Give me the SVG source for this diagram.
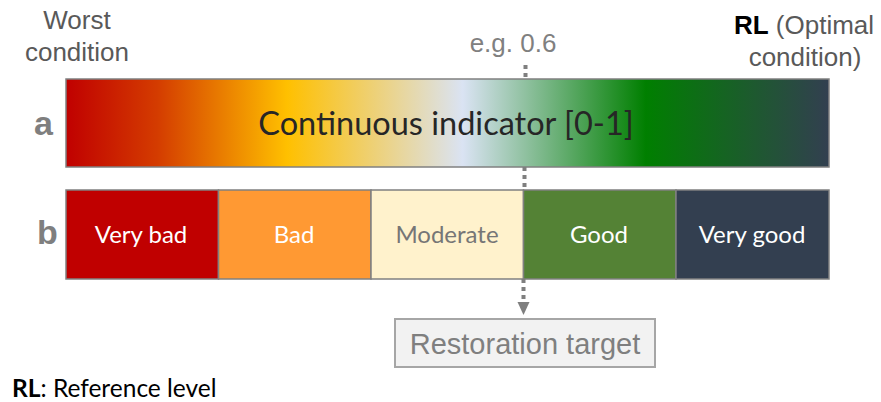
<svg xmlns="http://www.w3.org/2000/svg" width="881" height="402" viewBox="0 0 881 402">
  <style>
    .sans { font-family: "Liberation Sans", Arial, sans-serif; }
    .cal { font-family: Lato, "Open Sans", sans-serif; }
    .note { font-size: 26px; fill: #595959; }
    .row { font-size: 34px; font-weight: bold; fill: #7f7f7f; }
    .bar { stroke: #808080; stroke-width: 1.5; }
    .seg { font-size: 24px; fill: #ffffff; text-anchor: middle; }
    .dots { stroke: #7f7f7f; stroke-width: 4; stroke-dasharray: 4 4; fill: none; }
  </style>
  <defs>
    <linearGradient id="scale" x1="0" y1="0" x2="1" y2="0">
      <stop offset="0" stop-color="#c00000"/>
      <stop offset="0.12" stop-color="#d43c00"/>
      <stop offset="0.29" stop-color="#ffc000"/>
      <stop offset="0.42" stop-color="#ebd388"/>
      <stop offset="0.52" stop-color="#dae3f3"/>
      <stop offset="0.76" stop-color="#007f00"/>
      <stop offset="1" stop-color="#323f50"/>
    </linearGradient>
  </defs>

  <rect width="881" height="402" fill="#ffffff"/>

  <!-- end-point captions -->
  <g id="worst" class="sans note" text-anchor="middle">
    <text x="77" y="29">Worst</text>
    <text x="77" y="61">condition</text>
  </g>
  <g id="optimal" class="sans note" text-anchor="middle">
    <text x="804" y="34"><tspan font-weight="bold" fill="#000000">RL</tspan> (Optimal</text>
    <text x="805" y="66">condition)</text>
  </g>
  <g id="example" class="sans note">
    <text x="513" y="52" text-anchor="middle" fill="#808080">e.g. 0.6</text>
  </g>

  <!-- row a: continuous scale -->
  <g id="row-a">
    <text class="sans row" x="34" y="135">a</text>
    <rect class="bar" x="66" y="79" width="763" height="88" fill="url(#scale)"/>
    <text class="cal" x="446" y="135" font-size="32.5" fill="#262626" text-anchor="middle">Continuous indicator [0-1]</text>
  </g>

  <!-- row b: classes -->
  <g id="row-b">
    <text class="sans row" x="37" y="244">b</text>
  </g>
  <g id="very-bad">
    <rect class="bar" x="66" y="190" width="152.5" height="89" fill="#c00000"/>
    <text class="cal seg" x="141" y="243">Very bad</text>
  </g>
  <g id="bad">
    <rect class="bar" x="218.5" y="190" width="152.5" height="89" fill="#ff9933"/>
    <text class="cal seg" x="294" y="243">Bad</text>
  </g>
  <g id="moderate">
    <rect class="bar" x="371" y="190" width="152.5" height="89" fill="#fff2cc"/>
    <text class="cal seg" x="447" y="243" style="fill:#767676">Moderate</text>
  </g>
  <g id="good">
    <rect class="bar" x="523.5" y="190" width="152.5" height="89" fill="#548235"/>
    <text class="cal seg" x="599" y="243">Good</text>
  </g>
  <g id="very-good">
    <rect class="bar" x="676" y="190" width="153" height="89" fill="#333f50"/>
    <text class="cal seg" x="752" y="243">Very good</text>
  </g>

  <!-- target marker -->
  <g id="connectors">
    <line class="dots" x1="525.5" y1="65" x2="525.5" y2="79"/>
    <line class="dots" x1="524.5" y1="167" x2="524.5" y2="190"/>
    <line class="dots" x1="523.5" y1="279" x2="523.5" y2="303"/>
    <polygon points="517.5,302 529.5,302 523.5,315" fill="#7f7f7f"/>
  </g>

  <g id="restoration-target">
    <rect x="395" y="319" width="260" height="48" fill="#f2f2f2" stroke="#a6a6a6" stroke-width="2"/>
    <text class="sans" x="525" y="354" font-size="29" fill="#7f7f7f" text-anchor="middle">Restoration target</text>
  </g>

  <!-- legend -->
  <g id="legend">
    <text class="cal" x="12" y="397" font-size="24.5" fill="#000000"><tspan font-weight="bold">RL</tspan>: Reference level</text>
  </g>
</svg>
